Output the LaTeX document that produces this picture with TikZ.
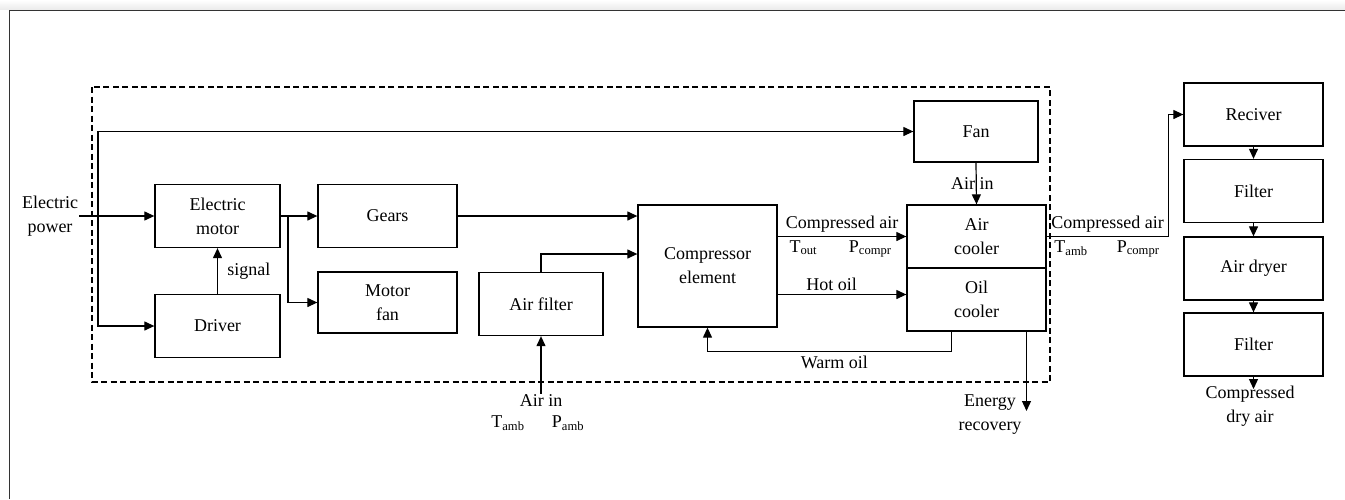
\documentclass[tikz,border=0pt]{standalone}
\usepackage{fontspec}
\setmainfont{Liberation Serif}
\usetikzlibrary{positioning, arrows.meta}

\begin{document}
\begin{tikzpicture}[x=1pt, y=-1pt,
        font=\fontsize{18}{24}\selectfont,
        box/.style={draw, line width=1.3pt, align=center, inner sep=0pt, minimum width=#1, minimum height=63pt},
        box/.default=139pt,
        arr/.style={line width=1.2pt, -{Triangle[length=10pt, width=9pt]}},
        lbl/.style={align=center, inner sep=1pt},
        dashbox/.style={line width=1.7pt, dash pattern=on 6pt off 3.5pt}]
        \useasboundingbox (0,0) rectangle (1345,499);
        \shade[top color=white, bottom color=gray!16] (0,0) rectangle (1345,9.5);
        \draw[gray!40!black, line width=1.8pt] (9.5,499) -- (9.5,10.5) -- (1345,10.5);
        \draw[dashbox] (92,87) rectangle (1050,382);

        \node[box=125pt] (motor) at (217.5,216) {Electric\\motor};
        \node[box=125pt] (driver) at (217.5,326) {Driver};
        \node[box] (gears) at (387.5,216) {Gears};
        \node[box, minimum height=61pt] (motorfan) at (387.5,302.5) {Motor\\fan};
        \node[box=124pt] (airfilter) at (541,304) {Air filter};
        \node[box, minimum height=122pt] (compressor) at (707.5,266) {Compressor\\element};
        \node[box=124pt, minimum height=61pt] (fan) at (976,131.5) {Fan};
        \node[box] (aircooler) at (976.5,236.5) {Air\\cooler};
        \node[box] (oilcooler) at (976.5,299.5) {Oil\\cooler};
        \node[box] (reciver) at (1253.5,114.5) {Reciver};
        \node[box] (filterA) at (1253.5,191) {Filter};
        \node[box] (dryer) at (1253.5,268.5) {Air dryer};
        \node[box] (filterB) at (1253.5,344.5) {Filter};

        \node[lbl] (power) at (50,216) {Electric\\power};
        \node[lbl] (airin) at (541,401) {Air in};
        \node[lbl] (tamb) at (508,423) {T\textsubscript{amb}};
        \node[lbl] (pamb) at (568,423) {P\textsubscript{amb}};
        \node[lbl] (energy) at (990,415) {Energy\\recovery};
        \node[lbl] (dryair) at (1250,406) {Compressed\\dry air};

        \coordinate (split) at (98,216);
        \coordinate (mb) at (288,216);
        \coordinate (enout) at (1026.5,411);
        \coordinate (dryout) at (1253.5,389);

        \draw[arr] (power.east) -- (motor.west);
        \draw[arr] (split) |- (fan.west);
        \draw[arr] (split) |- (driver.west);
        \draw[arr] (driver.north) -- node[right, xshift=6pt] {signal} (motor.south);
        \draw[arr] (motor.east) -- (gears.west);
        \draw[arr] (mb) |- (motorfan.west);
        \draw[arr] (gears.east) -- (gears.east -| compressor.west);
        \draw[arr] (airfilter.north) |- ([yshift=12pt]compressor.west);
        \draw[arr] (airin) -- (airfilter.south);
        \draw[arr] (aircooler.west -| compressor.east) -- node[above] {Compressed air}
          node[below, pos=0.2] {T\textsubscript{out}} node[below, pos=0.72] {P\textsubscript{compr}} (aircooler.west);
        \draw[arr] ([yshift=5pt]oilcooler.west -| compressor.east) -- node[above, pos=0.42] {Hot oil} ([yshift=5pt]oilcooler.west);
        \draw[arr] ([xshift=-25pt]oilcooler.south) |- node[below, pos=0.74] {Warm oil} ([yshift=-24pt]compressor.south) -- (compressor.south);
        \draw[arr] ([xshift=50pt]oilcooler.south) -- (enout);
        \draw[arr] (fan.south) -- node[xshift=-4pt] {Air in} (aircooler.north);
        \draw[arr] (aircooler.east) -- node[above] {Compressed air}
          node[below, pos=0.2] {T\textsubscript{amb}} node[below, pos=0.75] {P\textsubscript{compr}} ++(122,0) |- (reciver.west);
        \draw[arr] (reciver) -- (filterA);
        \draw[arr] (filterA) -- (dryer);
        \draw[arr] (dryer) -- (filterB);
        \draw[arr] (filterB) -- (dryout);
\end{tikzpicture}
\end{document}
